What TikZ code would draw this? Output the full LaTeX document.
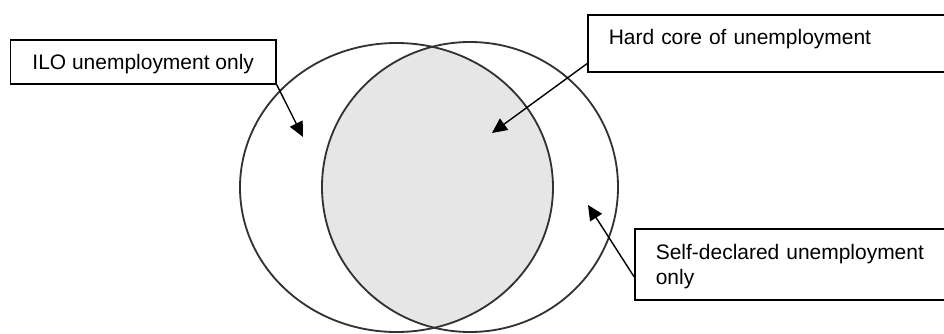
\documentclass[tikz,border=0pt]{standalone}
\usepackage{fontspec}
\setmainfont{Liberation Sans}
\usepackage{tikz}
\usetikzlibrary{arrows.meta, positioning, calc}
\definecolor{lensgray}{RGB}{230, 230, 230}
\definecolor{ringgray}{RGB}{50, 50, 50}

\begin{document}
\begin{tikzpicture}[
  x=0.3mm, y=-0.3mm, font=\fontsize{17.9}{21.3}\selectfont,
  venn/.style={draw=ringgray, line width=0.55mm},
  labelbox/.style={draw, line width=0.5mm, inner ysep=0pt, anchor=north west},
  pointer/.style={-{Triangle[length=4.5mm, width=4.2mm]}, line width=0.42mm}
]
\path[use as bounding box, clip] (0,0) rectangle (944,334);
\coordinate (ilocentre) at (396.5,187.5);
\coordinate (selfcentre) at (470,187);
\begin{scope}
  \clip (ilocentre) ellipse [x radius=46.95mm, y radius=43.35mm];
  \fill[lensgray] (selfcentre) ellipse [x radius=44.4mm, y radius=43.5mm];
\end{scope}
\draw[venn] (ilocentre) ellipse [x radius=46.95mm, y radius=43.35mm];
\draw[venn] (selfcentre) ellipse [x radius=44.4mm, y radius=43.5mm];
\node[labelbox, minimum width=79.6mm, text height=8.8mm, text depth=4.4mm] (ilo) at (9.7,39) {ILO unemployment only};
\node[labelbox, text width=99mm, inner xsep=6.3mm, align=left, text height=9mm, text depth=8.1mm] (hardcore) at (587,14) {Hard core of unemployment};
\node[labelbox, text width=85mm, inner xsep=6.3mm, align=left, text height=9.2mm, text depth=12.1mm] (selfdecl) at (634,228) {Self-declared unemployment\\only};
\coordinate (ilotip) at (303,137);
\coordinate (hardtip) at (492,133);
\coordinate (selftip) at (588,205);
\draw[pointer] (ilo.south east) -- (ilotip);
\draw[pointer] ([yshift=2.7mm]hardcore.south west) -- (hardtip);
\draw[pointer] ([yshift=7.2mm]selfdecl.south west) -- (selftip);
\end{tikzpicture}
\end{document}
